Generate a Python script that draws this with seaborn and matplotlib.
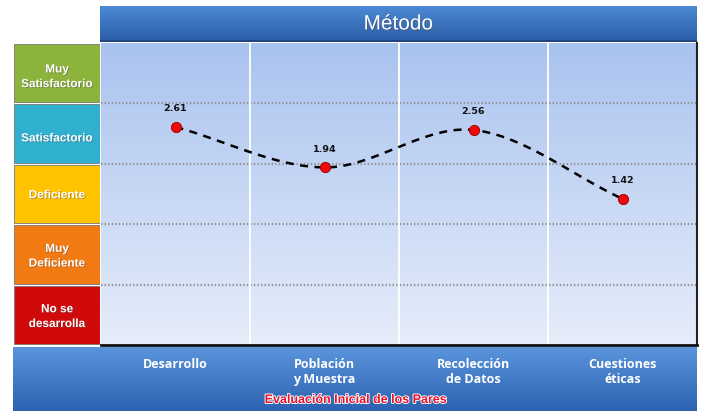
import numpy as np
import pandas as pd
import matplotlib
matplotlib.use("Agg")
import matplotlib.pyplot as plt
import seaborn as sns
from matplotlib.colors import LinearSegmentedColormap
import matplotlib.patheffects as pe

# ---- data ----
categories = ["Desarrollo", "Población\ny Muestra", "Recolección\nde Datos", "Cuestiones\néticas"]
values = [2.61, 1.94, 2.56, 1.42]
levels = ["Muy\nSatisfactorio", "Satisfactorio", "Deficiente", "Muy\nDeficiente", "No se\ndesarrolla"]
level_pos = [3.5, 2.5, 1.5, 0.5, -0.5]
level_colors = ["#8cb43c", "#30b0cf", "#ffc300", "#f27a12", "#d00a0a"]
title = "Método"
subtitle = "Evaluación Inicial de los Pares"

sns.set_theme(style="white")
plt.rcParams['font.family'] = ['Liberation Sans', 'DejaVu Sans']

W, H = 704, 411
fig = plt.figure(figsize=(W / 100, H / 100), dpi=100)
fig.patch.set_facecolor("white")

def fax(x0, y0, x1, y1):
    return fig.add_axes([x0 / W, 1 - y1 / H, (x1 - x0) / W, (y1 - y0) / H])

def gradient(ax, top, bottom, extent):
    cmap = LinearSegmentedColormap.from_list("g", [bottom, top])
    ax.imshow(np.linspace(0, 1, 256).reshape(-1, 1), cmap=cmap, origin="lower",
              extent=extent, aspect="auto", zorder=0)

# ---- bottom band ----
axb = fax(13, 347, 697, 411)
gradient(axb, "#5b95dc", "#2c62b0", [0, 1, 0, 1])
axb.set_xlim(0, 1); axb.set_ylim(0, 1); axb.axis("off")

# ---- title bar ----
axt = fax(100, 6, 697, 42)
gradient(axt, "#4d8ad4", "#2a5ca6", [0, 1, 0, 1])
axt.set_xlim(0, 1); axt.set_ylim(0, 1); axt.axis("off")
axt.axhline(0.02, color="#1d3f78", lw=1.2)
axt.text(0.5, 0.5, title, color="white", fontsize=15, ha="center", va="center",
         path_effects=[pe.withSimplePatchShadow(offset=(0.7, -0.7), alpha=0.5)])

# ---- main plot ----
ax = fax(101, 43, 697, 345)
ax.set_xlim(-0.5, 3.5)
ax.set_ylim(-1, 4)
gradient(ax, "#a9c3ef", "#e6edfa", [-0.5, 3.5, -1, 4])
for y in [0, 1, 2, 3]:
    ax.axhline(y, color="#8f8f8f", lw=1.6, ls=(0, (0.6, 1.0)), zorder=1)
for x in [0.5, 1.5, 2.5]:
    ax.axvline(x, color="white", lw=1.3, zorder=1)

# smooth curve (Catmull-Rom, like Excel's smoothed line)
p = np.array(values, dtype=float)
xs_all, ys_all = [], []
n = len(p)
for i in range(n - 1):
    p0 = p[i - 1] if i > 0 else p[i] - (p[i + 1] - p[i])
    p3 = p[i + 2] if i + 2 < n else p[i + 1] + (p[i + 1] - p[i])
    p1, p2 = p[i], p[i + 1]
    t = np.linspace(0, 1, 40)
    m1 = (p2 - p0) / 2
    m2 = (p3 - p1) / 2
    h00 = 2 * t**3 - 3 * t**2 + 1
    h10 = t**3 - 2 * t**2 + t
    h01 = -2 * t**3 + 3 * t**2
    h11 = t**3 - t**2
    ys_all.extend(h00 * p1 + h10 * m1 + h01 * p2 + h11 * m2)
    xs_all.extend(i + t)
curve = pd.DataFrame({"x": xs_all, "y": ys_all})
sns.lineplot(data=curve, x="x", y="y", ax=ax, color="black", lw=1.8,
             dashes=False, zorder=3, sort=False)
ax.lines[-1].set_linestyle((0, (3.2, 2.6)))

df = pd.DataFrame({"x": range(len(values)), "y": values})
sns.scatterplot(data=df, x="x", y="y", ax=ax, color="#ee0a0a", s=55,
                edgecolor="#9a0000", linewidth=0.6, zorder=4)
for xi, v in zip(df["x"], df["y"]):
    ax.annotate(f"{v:.2f}", (xi, v), xytext=(0, 10), textcoords="offset points",
                ha="center", va="bottom", fontsize=6.8, fontweight="bold",
                color="#111111", family=["DejaVu Sans"])

ax.set_xticks(range(len(categories)))
ax.set_xticklabels(categories, color="white", fontsize=9, fontweight="bold",
                   family=["Open Sans", "DejaVu Sans"], linespacing=1.25)
ax.tick_params(axis="x", length=0, pad=9)
ax.set_yticks([])
ax.set_xlabel(""); ax.set_ylabel("")
for s in ax.spines.values():
    s.set_visible(False)
ax.spines["bottom"].set_visible(True)
ax.spines["bottom"].set_color("#111111"); ax.spines["bottom"].set_linewidth(2)
ax.spines["right"].set_visible(True)
ax.spines["right"].set_color("#222222"); ax.spines["right"].set_linewidth(1.5)

# ---- left level boxes ----
axl = fax(14, 43, 100, 345)
axl.set_ylim(-1, 4); axl.set_xlim(0, 1)
lv = pd.DataFrame({"pos": level_pos, "label": levels})
axl.barh(lv["pos"], 1, height=0.965, color=level_colors, edgecolor="#777777", linewidth=0.6)
label_shift = [-0.06, -0.08, -0.02, -0.03, -0.03]
for ypos, lab, dy in zip(lv["pos"], lv["label"], label_shift):
    axl.text(0.5, ypos + dy, lab, color="white", fontsize=8.5, fontweight="bold",
             ha="center", va="center", linespacing=1.3,
             path_effects=[pe.withSimplePatchShadow(offset=(0.6, -0.6), alpha=0.45)])
axl.axis("off")

fig.text(356 / W, 1 - 400 / H, subtitle, color="#e8102a", fontsize=9, fontweight="bold",
         ha="center", va="center",
         path_effects=[pe.withStroke(linewidth=1.3, foreground="white")])

fig.savefig("out.png", dpi=100)
